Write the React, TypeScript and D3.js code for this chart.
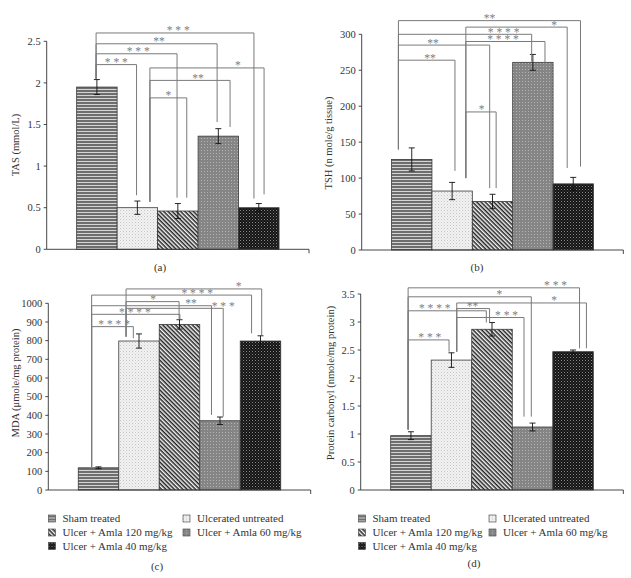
import React from "react";
import * as d3 from "d3";

const groups = [
  "Sham treated",
  "Ulcerated untreated",
  "Ulcer + Amla 120 mg/kg",
  "Ulcer + Amla 60 mg/kg",
  "Ulcer + Amla 40 mg/kg",
];

const tasValues = [1.95, 0.5, 0.46, 1.36, 0.5];
const tasErrors = [0.09, 0.08, 0.09, 0.09, 0.05];
const tasTicks = [0, 0.5, 1, 1.5, 2, 2.5];

const tshValues = [126, 82, 67.5, 261, 92];
const tshErrors = [16, 12, 10, 11, 9];
const tshTicks = [0, 50, 100, 150, 200, 250, 300];

const mdaValues = [119, 798, 887, 371, 798];
const mdaErrors = [5, 38, 25, 20, 28];
const mdaTicks = [0, 100, 200, 300, 400, 500, 600, 700, 800, 900, 1000];

const pcValues = [0.97, 2.32, 2.87, 1.125, 2.47];
const pcErrors = [0.07, 0.13, 0.12, 0.07, 0.03];
const pcTicks = [0, 0.5, 1, 1.5, 2, 2.5, 3, 3.5];

// brackets: [fromGroup, fromFrac, toGroup, toFrac, level, fromEnd, toEnd, label, labelT]
const tasBrackets: [number, number, number, number, number, number, number, string, number][] = [
  [0, 0.48, 4, 0.38, 2.6, 2.05, 0.61, "* * *", 0.52],
  [0, 0.48, 3, 0.47, 2.47, 2.05, 1.53, "**", 0.52],
  [0, 0.48, 2, 0.48, 2.35, 2.05, 0.62, "* * *", 0.52],
  [0, 0.48, 1, 0.48, 2.22, 2.05, 0.65, "* * *", 0.5],
  [1, 0.81, 4, 0.63, 2.18, 0.57, 0.66, "*", 0.77],
  [1, 0.81, 3, 0.79, 2.03, 0.57, 1.47, "**", 0.6],
  [1, 0.81, 2, 0.72, 1.82, 0.57, 0.62, "*", 0.5],
];

const tshBrackets: [number, number, number, number, number, number, number, string, number][] = [
  [0, 0.17, 4, 0.68, 319, 140, 116, "**", 0.5],
  [1, 0.84, 4, 0.35, 310, 100, 114, "*", 0.87],
  [0, 0.17, 3, 0.47, 300, 140, 262, "* * * *", 0.79],
  [1, 0.84, 3, 0.8, 290, 100, 261, "* * * *", 0.47],
  [0, 0.17, 2, 0.43, 285, 140, 86, "**", 0.38],
  [0, 0.17, 1, 0.57, 264, 140, 110, "**", 0.56],
  [1, 0.84, 2, 0.59, 192, 100, 86, "*", 0.52],
];

const mdaBrackets: [number, number, number, number, number, number, number, string, number][] = [
  [1, 0.18, 4, 0.53, 1077, 821, 830, "*", 0.83],
  [0, 0.33, 4, 0.28, 1044, 125, 839, "* * * *", 0.66],
  [1, 0.18, 2, 0.49, 1009, 821, 914, "*", 0.51],
  [0, 0.33, 3, 0.29, 987, 125, 402, "**", 0.83],
  [1, 0.18, 3, 0.58, 973, 821, 393, "* * *", 1.0],
  [0, 0.33, 2, 0.51, 941, 125, 916, "* * * *", 0.49],
  [0, 0.33, 1, 0.36, 875, 125, 813, "* * * *", 0.54],
];

const pcBrackets: [number, number, number, number, number, number, number, string, number][] = [
  [0, 0.43, 4, 0.66, 3.61, 1.08, 2.53, "* * *", 0.86],
  [0, 0.43, 3, 0.47, 3.45, 1.08, 1.31, "*", 0.74],
  [1, 0.63, 4, 0.83, 3.34, 2.47, 2.53, "*", 0.75],
  [0, 0.43, 2, 0.36, 3.2, 1.08, 2.99, "* * * *", 0.34],
  [1, 0.63, 2, 0.44, 3.24, 2.47, 2.99, "**", 0.48],
  [1, 0.63, 3, 0.29, 3.08, 2.47, 1.31, "* * *", 0.74],
  [0, 0.43, 1, 0.44, 2.68, 1.08, 2.47, "* * *", 0.53],
];

const patternIds = ["pSham", "pUlcer", "pA120", "pA60", "pA40"];
const FONT = "'Liberation Serif', 'DejaVu Serif', serif";

type PanelProps = {
  x0: number;
  x1: number;
  yBase: number;
  yTop: number;
  max: number;
  values: number[];
  errors: number[];
  ticks: number[];
  brackets: [number, number, number, number, number, number, number, string, number][];
  title: string;
  titleX: number;
  titleY: number;
  tag: string;
  tagX: number;
  tagY: number;
};

function Panel(p: PanelProps) {
  const x = d3.scaleBand<string>().domain(groups).range([p.x0, p.x1]).paddingInner(0).paddingOuter(0.74);
  const y = d3.scaleLinear().domain([0, p.max]).range([p.yBase, p.yTop]);
  const bw = x.bandwidth();
  const fmt = (v: number) => String(v);
  return (
    <g>
      {/* bars */}
      {p.values.map((v, i) => (
        <rect
          key={"b" + i}
          x={x(groups[i])!}
          y={y(v)}
          width={bw}
          height={y(0) - y(v)}
          fill={`url(#${patternIds[i]})`}
          stroke="#3a3a3a"
          strokeWidth={0.8}
        />
      ))}
      {/* error bars */}
      {p.values.map((v, i) => {
        const cx = x(groups[i])! + bw / 2;
        const e = p.errors[i];
        return (
          <g key={"e" + i} stroke="#111" strokeWidth={0.9}>
            <line x1={cx} x2={cx} y1={y(v + e)} y2={y(v - e)} />
            <line x1={cx - 3} x2={cx + 3} y1={y(v + e)} y2={y(v + e)} />
            <line x1={cx - 3} x2={cx + 3} y1={y(v - e)} y2={y(v - e)} />
          </g>
        );
      })}
      {/* brackets */}
      {p.brackets.map((b, k) => {
        const [fg, ff, tg, tf, lvl, fe, te, lab, lt] = b;
        const xl = x(groups[fg])! + ff * bw;
        const xr = x(groups[tg])! + tf * bw;
        const yl = y(lvl);
        return (
          <g key={"k" + k}>
            <path
              d={`M${xl},${y(fe)}V${yl}H${xr}V${y(te)}`}
              fill="none"
              stroke="#7a7a7a"
              strokeWidth={1}
            />
            <text
              x={xl + lt * (xr - xl)}
              y={yl + 1.5}
              textAnchor="middle"
              fontFamily={FONT}
              fontSize={11.5}
              fill="#808080"
            >
              {lab}
            </text>
          </g>
        );
      })}
      {/* axes */}
      <line x1={p.x0} x2={p.x0} y1={y(0)} y2={y(p.max)} stroke="#333" strokeWidth={0.9} />
      <line x1={p.x0} x2={p.x1} y1={y(0)} y2={y(0)} stroke="#333" strokeWidth={0.9} />
      <line x1={p.x1} x2={p.x1} y1={y(0)} y2={y(0) + 4} stroke="#333" strokeWidth={0.9} />
      {p.ticks.map((t) => (
        <g key={"t" + t}>
          <line x1={p.x0 - 3} x2={p.x0} y1={y(t)} y2={y(t)} stroke="#333" strokeWidth={0.9} />
          <text
            x={p.x0 - 6}
            y={y(t)}
            dy="0.35em"
            textAnchor="end"
            fontFamily={FONT}
            fontSize={10.5}
            fill="#333"
          >
            {fmt(t)}
          </text>
        </g>
      ))}
      <text
        transform={`translate(${p.titleX},${p.titleY}) rotate(-90)`}
        textAnchor="middle"
        fontFamily={FONT}
        fontSize={10.5}
        fill="#333"
        dy="0.35em"
      >
        {p.title}
      </text>
      <text x={p.tagX} y={p.tagY} dy="0.35em" textAnchor="middle" fontFamily={FONT} fontSize={11} fill="#333">
        {p.tag}
      </text>
    </g>
  );
}

function Legend({ x0, x1, y0 }: { x0: number; x1: number; y0: number }) {
  const pos = [
    [x0, y0],
    [x1, y0],
    [x0, y0 + 14],
    [x1, y0 + 14],
    [x0, y0 + 27.5],
  ];
  return (
    <g>
      {groups.map((g, i) => (
        <g key={g} transform={`translate(${pos[i][0]},${pos[i][1]})`}>
          <rect x={0} y={-3.5} width={7} height={7} fill={`url(#${patternIds[i]})`} stroke="#3a3a3a" strokeWidth={0.6} />
          <text x={14} y={0} dy="0.35em" fontFamily={FONT} fontSize={11} fill="#333">
            {g}
          </text>
        </g>
      ))}
    </g>
  );
}

export default function App() {
  return (
    <svg
      width={631}
      height={578}
      style={{ position: "absolute", left: 0, top: 0, background: "#fff" }}
    >
      <defs>
        <pattern id="pSham" patternUnits="userSpaceOnUse" width={4} height={3}>
          <rect width={4} height={3} fill="#d4d4d4" />
          <rect width={4} height={2} fill="#6e6e6e" />
        </pattern>
        <pattern id="pUlcer" patternUnits="userSpaceOnUse" width={3} height={3}>
          <rect width={3} height={3} fill="#f2f2f2" />
          <rect x={0} y={0} width={1} height={1} fill="#c4c4c4" />
          <rect x={1.5} y={1.5} width={1} height={1} fill="#d8d8d8" />
        </pattern>
        <pattern id="pA120" patternUnits="userSpaceOnUse" width={3} height={3} patternTransform="rotate(45)">
          <rect width={3} height={3} fill="#f4f4f4" />
          <rect width={3} height={1.5} fill="#222" />
        </pattern>
        <pattern id="pA60" patternUnits="userSpaceOnUse" width={3} height={3}>
          <rect width={3} height={3} fill="#858585" />
          <rect x={0} y={0} width={1} height={1} fill="#b4b4b4" />
        </pattern>
        <pattern id="pA40" patternUnits="userSpaceOnUse" width={3} height={3}>
          <rect width={3} height={3} fill="#141414" />
          <rect x={0} y={0} width={1} height={1} fill="#8a8a8a" />
          <rect x={1.5} y={1.5} width={1} height={1} fill="#555" />
        </pattern>
      </defs>
      <Panel
        x0={46.7}
        x1={309}
        yBase={249.3}
        yTop={41.3}
        max={2.5}
        values={tasValues}
        errors={tasErrors}
        ticks={tasTicks}
        brackets={tasBrackets}
        title="TAS (mmol/L)"
        titleX={15}
        titleY={145}
        tag="(a)"
        tagX={160}
        tagY={267}
      />
      <Panel
        x0={361.7}
        x1={623.3}
        yBase={250}
        yTop={34.3}
        max={300}
        values={tshValues}
        errors={tshErrors}
        ticks={tshTicks}
        brackets={tshBrackets}
        title="TSH (n mole/g tissue)"
        titleX={328.5}
        titleY={143}
        tag="(b)"
        tagX={477}
        tagY={267}
      />
      <Panel
        x0={48.3}
        x1={310.7}
        yBase={490}
        yTop={303.3}
        max={1000}
        values={mdaValues}
        errors={mdaErrors}
        ticks={mdaTicks}
        brackets={mdaBrackets}
        title="MDA (μmole/mg protein)"
        titleX={15.7}
        titleY={383}
        tag="(c)"
        tagX={157}
        tagY={566}
      />
      <Panel
        x0={360.7}
        x1={623.3}
        yBase={490}
        yTop={294}
        max={3.5}
        values={pcValues}
        errors={pcErrors}
        ticks={pcTicks}
        brackets={pcBrackets}
        title="Protein carbonyl (nmole/mg protein)"
        titleX={330}
        titleY={383}
        tag="(d)"
        tagX={474}
        tagY={563}
      />
      <Legend x0={48.5} x1={183} y0={518.5} />
      <Legend x0={358.5} x1={489} y0={518.5} />
    </svg>
  );
}
